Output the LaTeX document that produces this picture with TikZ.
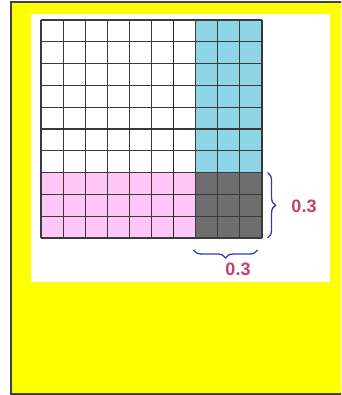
\documentclass[tikz,border=0pt]{standalone}
\usepackage{fontspec}
\setmainfont{Liberation Sans}
\usetikzlibrary{decorations.pathreplacing}
\definecolor{frameyellow}{HTML}{FFFF00}
\definecolor{cellcyan}{HTML}{8ED6E6}
\definecolor{cellpink}{HTML}{FFC6F8}
\definecolor{cellgray}{HTML}{6E6E6E}
\definecolor{gridline}{HTML}{3A3A3A}
\definecolor{bracecol}{HTML}{3A3AB0}
\definecolor{labelcol}{HTML}{C4406A}
\tikzset{
  gridstroke/.style={draw=gridline, line width=1.1pt},
  bracestroke/.style={draw=bracecol, line width=1.3pt, decorate, decoration={brace, amplitude=8pt}},
  valuelabel/.style={text=labelcol, font=\fontsize{18}{18}\selectfont\bfseries, inner sep=0pt}
}
\begin{document}
\begin{tikzpicture}[x=1pt,y=-1pt]
\useasboundingbox (0,0) rectangle (341,395);
\fill[white] (0,0) rectangle (341,395);
\begin{scope}
\clip (0,0) rectangle (341,395);
\draw[fill=frameyellow, draw=black!75, line width=1.3pt] (11,2) rectangle (350,394);
\end{scope}
\fill[white] (31,14) rectangle (330,282);
% grid 10x10 from (41,20) to (262,238)
\begin{scope}[shift={(41,20)}, x=22.1pt, y=-21.8pt]
  \fill[cellcyan] (7,0) rectangle (10,7);
  \fill[cellpink] (0,7) rectangle (7,10);
  \fill[cellgray] (7,7) rectangle (10,10);
  \foreach \i in {0,...,10} {
    \draw[gridstroke] (\i,0) -- (\i,10);
    \draw[gridstroke] (0,\i) -- (10,\i);
  }
  \draw[gridstroke, line width=1.7pt, draw=black!85] (6,0) -- (6,10);
  \coordinate (rtop) at (10.25,7);
  \coordinate (rbot) at (10.25,10);
  \coordinate (bright) at (9.8,10.55);
  \coordinate (bleft) at (6.9,10.55);
\end{scope}
\draw[bracestroke] (rtop) -- (rbot);
\draw[bracestroke] (bright) -- (bleft);
\node[valuelabel] (lblright) at (304,206) {0.3};
\node[valuelabel] (lblbottom) at (238,269) {0.3};
\end{tikzpicture}
\end{document}
